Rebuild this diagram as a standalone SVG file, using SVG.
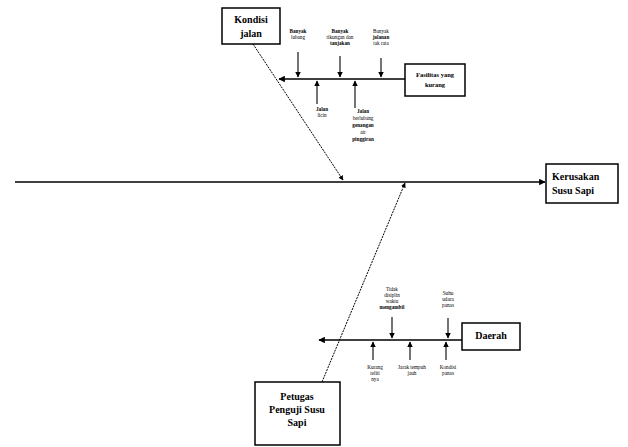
<svg xmlns="http://www.w3.org/2000/svg" width="628" height="447" viewBox="0 0 628 447">
<defs>
<marker id="ah" viewBox="0 0 10 10" refX="9" refY="5" markerWidth="5" markerHeight="5" orient="auto-start-reverse"><path d="M0,0 L10,5 L0,10 z" fill="#000"/></marker>
<style>
.box{fill:#fff;stroke:#000;stroke-width:1.5}
.bt{font-family:"Liberation Serif","Times New Roman",serif;font-size:10px;font-weight:bold;text-anchor:middle;fill:#000}
.st{font-family:"Liberation Serif","Times New Roman",serif;font-size:5.2px;text-anchor:middle;fill:#000}
.sb{font-weight:bold}
.ln{stroke:#000;stroke-width:1.3;fill:none}
.dl{stroke:#000;stroke-width:1;stroke-dasharray:2 1;fill:none}
.ar{stroke:#000;stroke-width:1.1;fill:none;marker-end:url(#ah)}
</style>
</defs>
<rect width="628" height="447" fill="#fff"/>
<g id="connectors">
<line class="ln" x1="15" y1="182" x2="545" y2="182" marker-end="url(#ah)"/>
<line class="dl" x1="253" y1="44" x2="343" y2="180" marker-end="url(#ah)"/>
<line class="dl" x1="322" y1="382" x2="405" y2="183" marker-end="url(#ah)"/>
<line class="ln" x1="405" y1="79" x2="279" y2="79" marker-end="url(#ah)"/>
<line class="ln" x1="462" y1="340" x2="319" y2="340" marker-end="url(#ah)"/>
<line class="ar" x1="298" y1="52" x2="298" y2="77"/>
<line class="ar" x1="340" y1="56" x2="340" y2="77"/>
<line class="ar" x1="381" y1="58" x2="381" y2="77"/>
<line class="ar" x1="317" y1="104" x2="317" y2="81"/>
<line class="ar" x1="355" y1="108" x2="355" y2="81"/>
<line class="ar" x1="392" y1="317" x2="392" y2="338"/>
<line class="ar" x1="448" y1="318" x2="448" y2="338"/>
<line class="ar" x1="373" y1="360" x2="373" y2="342"/>
<line class="ar" x1="410" y1="360" x2="410" y2="342"/>
<line class="ar" x1="446" y1="360" x2="446" y2="342"/>
</g>
<g id="effect"><rect class="box" x="546" y="164" width="72" height="39" stroke-width="0.8"/><text class="bt" x="552" y="180" style="text-anchor:start">Kerusakan</text><text class="bt" x="552" y="194" style="text-anchor:start">Susu Sapi</text></g>
<g id="kondisi"><rect class="box" x="222" y="8" width="58" height="36"/><text class="bt" x="251" y="23">Kondisi</text><text class="bt" x="251" y="37">jalan</text></g>
<g id="fasilitas"><rect class="box" x="405" y="64" width="60" height="32" stroke-width="0.8"/><text class="bt" x="435" y="77" style="font-size:6.5px">Fasilitas yang</text><text class="bt" x="435" y="87" style="font-size:6.5px">kurang</text></g>
<g id="petugas"><rect class="box" x="255" y="382" width="85" height="63"/><text class="bt" x="297" y="400">Petugas</text><text class="bt" x="297" y="413">Penguji Susu</text><text class="bt" x="297" y="426">Sapi</text></g>
<g id="daerah"><rect class="box" x="462" y="323" width="58" height="27"/><text class="bt" x="491" y="339">Daerah</text></g>
<g id="labels">
<text class="st" x="298" y="33"><tspan class="sb">Banyak</tspan><tspan x="298" dy="6">lubang</tspan></text>
<text class="st" x="340" y="33"><tspan class="sb">Banyak</tspan><tspan x="340" dy="6">tikungan dan</tspan><tspan x="340" dy="6" class="sb">tanjakan</tspan></text>
<text class="st" x="381" y="33"><tspan>Banyak</tspan><tspan x="381" dy="6" class="sb">jalanan</tspan><tspan x="381" dy="6">tak rata</tspan></text>
<text class="st" x="322" y="111"><tspan class="sb">Jalan</tspan><tspan x="322" dy="6">licin</tspan></text>
<text class="st" x="363" y="113"><tspan class="sb">Jalan</tspan><tspan x="363" dy="7">berlubang</tspan><tspan x="363" dy="7" class="sb">genangan</tspan><tspan x="363" dy="7">air</tspan><tspan x="363" dy="7" class="sb">pinggiran</tspan></text>
<text class="st" x="392" y="291"><tspan>Tidak</tspan><tspan x="392" dy="6">disiplin</tspan><tspan x="392" dy="6">waktu</tspan><tspan x="392" dy="6" class="sb">mengambil</tspan></text>
<text class="st" x="448" y="295"><tspan>Suhu</tspan><tspan x="448" dy="6">udara</tspan><tspan x="448" dy="6">panas</tspan></text>
<text class="st" x="375" y="369"><tspan>Kurang</tspan><tspan x="375" dy="6">teliti</tspan><tspan x="375" dy="6">nya</tspan></text>
<text class="st" x="412" y="369"><tspan>Jarak tempuh</tspan><tspan x="412" dy="6">jauh</tspan></text>
<text class="st" x="448" y="369"><tspan>Kondisi</tspan><tspan x="448" dy="6">panas</tspan></text>
</g>
</svg>
